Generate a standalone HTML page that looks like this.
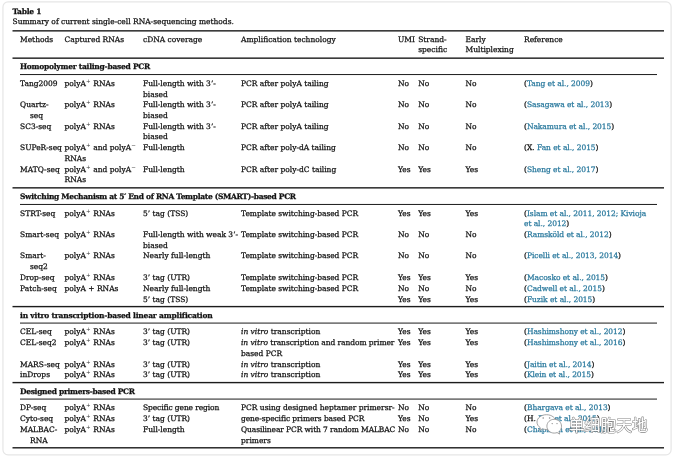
<!DOCTYPE html>
<html><head><meta charset="utf-8"><title>Table 1</title>
<style>
html,body{margin:0;padding:0;background:#fff;}
body{width:676px;height:460px;position:relative;overflow:hidden;font-family:"DejaVu Serif", "Liberation Serif", serif;font-size:7.5px;line-height:10.5px;color:#111;-webkit-text-stroke:0.25px #111;}
.t{position:absolute;white-space:nowrap;}
.rules{position:absolute;left:0;top:0;}
.b{font-weight:bold;letter-spacing:-0.25px;}
a{letter-spacing:-0.05px;color:#2b7a9e;-webkit-text-stroke:0.25px #2b7a9e;text-decoration:none;}
sup{font-size:5.5px;line-height:0;vertical-align:2.6px;-webkit-text-stroke:0;color:#333;padding-right:0.4px;}
.ind{padding-left:10px;}
</style></head><body>
<div class="t b" style="left:12.5px;top:6.5px">Table 1</div>
<div class="t" style="left:12.5px;top:16.9px">Summary of current single-cell RNA-sequencing methods.</div>

<svg class="rules" width="676" height="460" viewBox="0 0 676 460">
<rect x="2.95" y="1.95" width="668.15" height="452.9" rx="5" ry="5" fill="none" stroke="#e6e6e6" stroke-width="1.2"/>
<rect x="12.5" y="30.15" width="651.5" height="1.4" fill="#1c1c1c"/>
<rect x="12.5" y="57.45" width="651.5" height="1.4" fill="#1c1c1c"/>
<rect x="12.5" y="187.15" width="651.5" height="1.4" fill="#1c1c1c"/>
<rect x="12.5" y="305.90" width="651.5" height="1.4" fill="#1c1c1c"/>
<rect x="12.5" y="381.90" width="651.5" height="1.4" fill="#1c1c1c"/>
<rect x="12.5" y="447.10" width="651.5" height="1.4" fill="#1c1c1c"/>
<rect x="20" y="74.05" width="637" height="1" fill="#1c1c1c"/>
<rect x="20" y="203.95" width="637" height="1" fill="#1c1c1c"/>
<rect x="20" y="322.58" width="637" height="1" fill="#1c1c1c"/>
<rect x="20" y="398.58" width="637" height="1" fill="#1c1c1c"/>
</svg>
<div class="t" style="left:20px;top:35px">Methods</div>
<div class="t" style="left:64.5px;top:35px">Captured RNAs</div>
<div class="t" style="left:143px;top:35px">cDNA coverage</div>
<div class="t" style="left:241px;top:35px">Amplification technology</div>
<div class="t" style="left:398px;top:35px">UMI</div>
<div class="t" style="left:418.2px;top:35px">Strand-</div>
<div class="t" style="left:418.2px;top:45px">specific</div>
<div class="t" style="left:465.5px;top:35px">Early</div>
<div class="t" style="left:465.5px;top:45px">Multiplexing</div>
<div class="t" style="left:524px;top:35px">Reference</div>
<div class="t b" style="left:20px;top:62px;letter-spacing:-0.25px">Homopolymer tailing-based PCR</div>
<div class="t b" style="left:20px;top:192px;letter-spacing:-0.305px">Switching Mechanism at 5′ End of RNA Template (SMART)-based PCR</div>
<div class="t b" style="left:20px;top:311px;letter-spacing:-0.19px">in vitro transcription-based linear amplification</div>
<div class="t b" style="left:20px;top:387px;letter-spacing:-0.3px">Designed primers-based PCR</div>
<div class="t" style="left:20px;top:79px">Tang2009</div>
<div class="t" style="left:64.5px;top:79px">polyA<sup>+</sup> RNAs</div>
<div class="t" style="left:143px;top:79px">Full-length with 3’-</div>
<div class="t" style="left:143px;top:90px">biased</div>
<div class="t" style="left:241px;top:79px">PCR after polyA tailing</div>
<div class="t" style="left:398px;top:79px">No</div>
<div class="t" style="left:418.2px;top:79px">No</div>
<div class="t" style="left:465.5px;top:79px">No</div>
<div class="t" style="left:524px;top:79px">(<a>Tang et al., 2009</a>)</div>
<div class="t" style="left:20px;top:100px">Quartz-</div>
<div class="t" style="left:20px;top:111px"><span class=ind>seq</span></div>
<div class="t" style="left:64.5px;top:100px">polyA<sup>+</sup> RNAs</div>
<div class="t" style="left:143px;top:100px">Full-length with 3’-</div>
<div class="t" style="left:143px;top:111px">biased</div>
<div class="t" style="left:241px;top:100px">PCR after polyA tailing</div>
<div class="t" style="left:398px;top:100px">No</div>
<div class="t" style="left:418.2px;top:100px">No</div>
<div class="t" style="left:465.5px;top:100px">No</div>
<div class="t" style="left:524px;top:100px">(<a>Sasagawa et al., 2013</a>)</div>
<div class="t" style="left:20px;top:122px">SC3-seq</div>
<div class="t" style="left:64.5px;top:122px">polyA<sup>+</sup> RNAs</div>
<div class="t" style="left:143px;top:122px">Full-length with 3’-</div>
<div class="t" style="left:143px;top:132px">biased</div>
<div class="t" style="left:241px;top:122px">PCR after polyA tailing</div>
<div class="t" style="left:398px;top:122px">No</div>
<div class="t" style="left:418.2px;top:122px">No</div>
<div class="t" style="left:465.5px;top:122px">No</div>
<div class="t" style="left:524px;top:122px">(<a>Nakamura et al., 2015</a>)</div>
<div class="t" style="left:20px;top:143px">SUPeR-seq</div>
<div class="t" style="left:64.5px;top:143px">polyA<sup>+</sup> and polyA<sup>−</sup></div>
<div class="t" style="left:64.5px;top:154px">RNAs</div>
<div class="t" style="left:143px;top:143px">Full-length</div>
<div class="t" style="left:241px;top:143px">PCR after poly-dA tailing</div>
<div class="t" style="left:398px;top:143px">No</div>
<div class="t" style="left:418.2px;top:143px">No</div>
<div class="t" style="left:465.5px;top:143px">No</div>
<div class="t" style="left:524px;top:143px">(X. <a>Fan et al., 2015</a>)</div>
<div class="t" style="left:20px;top:165px">MATQ-seq</div>
<div class="t" style="left:64.5px;top:165px">polyA<sup>+</sup> and polyA<sup>−</sup></div>
<div class="t" style="left:64.5px;top:175px">RNAs</div>
<div class="t" style="left:143px;top:165px">Full-length</div>
<div class="t" style="left:241px;top:165px">PCR after poly-dC tailing</div>
<div class="t" style="left:398px;top:165px">Yes</div>
<div class="t" style="left:418.2px;top:165px">Yes</div>
<div class="t" style="left:465.5px;top:165px">Yes</div>
<div class="t" style="left:524px;top:165px">(<a>Sheng et al., 2017</a>)</div>
<div class="t" style="left:20px;top:209px">STRT-seq</div>
<div class="t" style="left:64.5px;top:209px">polyA<sup>+</sup> RNAs</div>
<div class="t" style="left:143px;top:209px">5’ tag (TSS)</div>
<div class="t" style="left:241px;top:209px;letter-spacing:-0.03px">Template switching-based PCR</div>
<div class="t" style="left:398px;top:209px">Yes</div>
<div class="t" style="left:418.2px;top:209px">Yes</div>
<div class="t" style="left:465.5px;top:209px">Yes</div>
<div class="t" style="left:524px;top:209px">(<a>Islam et al., 2011, 2012; Kivioja</a></div>
<div class="t" style="left:524px;top:219px"><a>et al., 2012</a>)</div>
<div class="t" style="left:20px;top:230px">Smart-seq</div>
<div class="t" style="left:64.5px;top:230px">polyA<sup>+</sup> RNAs</div>
<div class="t" style="left:143px;top:230px">Full-length with weak 3’-</div>
<div class="t" style="left:143px;top:241px">biased</div>
<div class="t" style="left:241px;top:230px;letter-spacing:-0.03px">Template switching-based PCR</div>
<div class="t" style="left:398px;top:230px">No</div>
<div class="t" style="left:418.2px;top:230px">No</div>
<div class="t" style="left:465.5px;top:230px">No</div>
<div class="t" style="left:524px;top:230px">(<a>Ramsköld et al., 2012</a>)</div>
<div class="t" style="left:20px;top:251px">Smart-</div>
<div class="t" style="left:20px;top:262px"><span class=ind>seq2</span></div>
<div class="t" style="left:64.5px;top:251px">polyA<sup>+</sup> RNAs</div>
<div class="t" style="left:143px;top:251px">Nearly full-length</div>
<div class="t" style="left:241px;top:251px;letter-spacing:-0.03px">Template switching-based PCR</div>
<div class="t" style="left:398px;top:251px">No</div>
<div class="t" style="left:418.2px;top:251px">No</div>
<div class="t" style="left:465.5px;top:251px">No</div>
<div class="t" style="left:524px;top:251px">(<a>Picelli et al., 2013, 2014</a>)</div>
<div class="t" style="left:20px;top:273px">Drop-seq</div>
<div class="t" style="left:64.5px;top:273px">polyA<sup>+</sup> RNAs</div>
<div class="t" style="left:143px;top:273px">3’ tag (UTR)</div>
<div class="t" style="left:241px;top:273px;letter-spacing:-0.03px">Template switching-based PCR</div>
<div class="t" style="left:398px;top:273px">Yes</div>
<div class="t" style="left:418.2px;top:273px">Yes</div>
<div class="t" style="left:465.5px;top:273px">Yes</div>
<div class="t" style="left:524px;top:273px">(<a>Macosko et al., 2015</a>)</div>
<div class="t" style="left:20px;top:284px">Patch-seq</div>
<div class="t" style="left:64.5px;top:284px">polyA + RNAs</div>
<div class="t" style="left:143px;top:284px">Nearly full-length</div>
<div class="t" style="left:143px;top:295px">5’ tag (TSS)</div>
<div class="t" style="left:241px;top:284px;letter-spacing:-0.03px">Template switching-based PCR</div>
<div class="t" style="left:398px;top:284px">No</div>
<div class="t" style="left:398px;top:295px">Yes</div>
<div class="t" style="left:418.2px;top:284px">No</div>
<div class="t" style="left:418.2px;top:295px">Yes</div>
<div class="t" style="left:465.5px;top:284px">No</div>
<div class="t" style="left:465.5px;top:295px">Yes</div>
<div class="t" style="left:524px;top:284px">(<a>Cadwell et al., 2015</a>)</div>
<div class="t" style="left:524px;top:295px">(<a>Fuzik et al., 2015</a>)</div>
<div class="t" style="left:20px;top:327px">CEL-seq</div>
<div class="t" style="left:64.5px;top:327px">polyA<sup>+</sup> RNAs</div>
<div class="t" style="left:143px;top:327px">3’ tag (UTR)</div>
<div class="t" style="left:241px;top:327px"><i>in vitro</i> transcription</div>
<div class="t" style="left:398px;top:327px">Yes</div>
<div class="t" style="left:418.2px;top:327px">Yes</div>
<div class="t" style="left:465.5px;top:327px">Yes</div>
<div class="t" style="left:524px;top:327px">(<a>Hashimshony et al., 2012</a>)</div>
<div class="t" style="left:20px;top:338px">CEL-seq2</div>
<div class="t" style="left:64.5px;top:338px">polyA<sup>+</sup> RNAs</div>
<div class="t" style="left:143px;top:338px">3’ tag (UTR)</div>
<div class="t" style="left:241px;top:338px;letter-spacing:-0.06px"><i>in vitro</i> transcription and random primer</div>
<div class="t" style="left:241px;top:349px">based PCR</div>
<div class="t" style="left:398px;top:338px">Yes</div>
<div class="t" style="left:418.2px;top:338px">Yes</div>
<div class="t" style="left:465.5px;top:338px">Yes</div>
<div class="t" style="left:524px;top:338px">(<a>Hashimshony et al., 2016</a>)</div>
<div class="t" style="left:20px;top:360px">MARS-seq</div>
<div class="t" style="left:64.5px;top:360px">polyA<sup>+</sup> RNAs</div>
<div class="t" style="left:143px;top:360px">3’ tag (UTR)</div>
<div class="t" style="left:241px;top:360px"><i>in vitro</i> transcription</div>
<div class="t" style="left:398px;top:360px">Yes</div>
<div class="t" style="left:418.2px;top:360px">Yes</div>
<div class="t" style="left:465.5px;top:360px">Yes</div>
<div class="t" style="left:524px;top:360px">(<a>Jaitin et al., 2014</a>)</div>
<div class="t" style="left:20px;top:370px">inDrops</div>
<div class="t" style="left:64.5px;top:370px">polyA<sup>+</sup> RNAs</div>
<div class="t" style="left:143px;top:370px">3’ tag (UTR)</div>
<div class="t" style="left:241px;top:370px"><i>in vitro</i> transcription</div>
<div class="t" style="left:398px;top:370px">Yes</div>
<div class="t" style="left:418.2px;top:370px">Yes</div>
<div class="t" style="left:465.5px;top:370px">Yes</div>
<div class="t" style="left:524px;top:370px">(<a>Klein et al., 2015</a>)</div>
<div class="t" style="left:20px;top:403px">DP-seq</div>
<div class="t" style="left:64.5px;top:403px">polyA<sup>+</sup> RNAs</div>
<div class="t" style="left:143px;top:403px;letter-spacing:-0.1px">Specific gene region</div>
<div class="t" style="left:241px;top:403px">PCR using designed heptamer primersr-</div>
<div class="t" style="left:398px;top:403px">No</div>
<div class="t" style="left:418.2px;top:403px">No</div>
<div class="t" style="left:465.5px;top:403px">No</div>
<div class="t" style="left:524px;top:403px">(<a>Bhargava et al., 2013</a>)</div>
<div class="t" style="left:20px;top:414px">Cyto-seq</div>
<div class="t" style="left:64.5px;top:414px">polyA<sup>+</sup> RNAs</div>
<div class="t" style="left:143px;top:414px">3’ tag (UTR)</div>
<div class="t" style="left:241px;top:414px;letter-spacing:-0.08px">gene-specific primers based PCR</div>
<div class="t" style="left:398px;top:414px">Yes</div>
<div class="t" style="left:418.2px;top:414px">No</div>
<div class="t" style="left:465.5px;top:414px">Yes</div>
<div class="t" style="left:524px;top:414px">(H. <a>Fan et al., 2015</a>)</div>
<div class="t" style="left:20px;top:425px">MALBAC-</div>
<div class="t" style="left:20px;top:436px"><span class=ind>RNA</span></div>
<div class="t" style="left:64.5px;top:425px">polyA<sup>+</sup> RNAs</div>
<div class="t" style="left:143px;top:425px">Full-length</div>
<div class="t" style="left:241px;top:425px;letter-spacing:-0.095px">Quasilinear PCR with 7 random MALBAC</div>
<div class="t" style="left:241px;top:436px">primers</div>
<div class="t" style="left:398px;top:425px">No</div>
<div class="t" style="left:418.2px;top:425px">No</div>
<div class="t" style="left:465.5px;top:425px">No</div>
<div class="t" style="left:524px;top:425px">(<a>Chapman et al., 2015</a>)</div>
<svg class="rules" width="676" height="460" viewBox="0 0 676 460">
<g fill="#fff" stroke="#8c8c8c" stroke-width="0.8">
<path d="M546.5 414.7c-5.300 0-9.500 3.300-9.500 7.400 0 2.300 1.300 4.300 3.400 5.700l-.9 2.600 3-1.600c1.200.4 2.600.7 4 .7 5.300 0 9.500-3.300 9.500-7.400s-4.200-7.400-9.500-7.400z"/>
<path d="M554.2 419.300c-4.100 0-7.300 3.100-7.300 6.900s3.200 6.900 7.300 6.900c1 0 2-.2 2.900-.5l2.600 1.500-.7-2.500c1.600-1.300 2.500-3.200 2.500-5.400 0-3.800-3.200-6.900-7.300-6.900z"/>
</g>
<g fill="#8c8c8c"><circle cx="543.200" cy="418" r=".8"/><circle cx="549.600" cy="418" r=".8"/><circle cx="552.200" cy="423.600" r=".7"/><circle cx="557" cy="423.600" r=".7"/></g>
<text x="568.8" y="431.2" font-family="'Liberation Sans','Noto Sans CJK SC',sans-serif" font-size="15.8" fill="#fff" stroke="#7d7d7d" stroke-width="1.1" paint-order="stroke" stroke-linejoin="round" opacity="0.95">单细胞天地</text>
</svg>
</body></html>
